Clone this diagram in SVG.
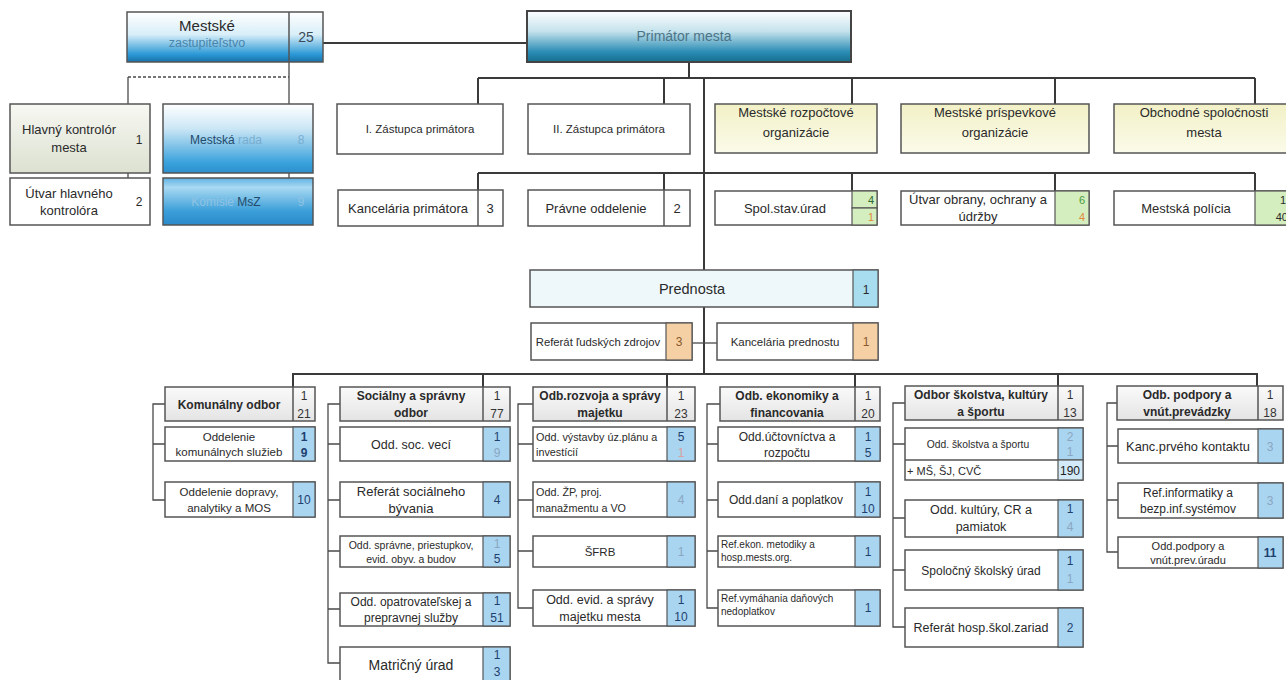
<svg xmlns="http://www.w3.org/2000/svg" width="1286" height="680" viewBox="0 0 1286 680">
<defs>
<linearGradient id="gZast" x1="0" y1="0" x2="0" y2="1"><stop offset="0" stop-color="#ffffff"/><stop offset="0.45" stop-color="#d8eef8"/><stop offset="0.85" stop-color="#2a98d6"/><stop offset="1" stop-color="#1a6fa8"/></linearGradient>
<linearGradient id="gPrim" x1="0" y1="0" x2="0" y2="1"><stop offset="0" stop-color="#ffffff"/><stop offset="0.4" stop-color="#c4e2ec"/><stop offset="0.8" stop-color="#2b8db5"/><stop offset="1" stop-color="#156e8e"/></linearGradient>
<linearGradient id="gRada" x1="0" y1="0" x2="0" y2="1"><stop offset="0" stop-color="#ffffff"/><stop offset="0.35" stop-color="#cde7f6"/><stop offset="0.85" stop-color="#3aa2dc"/><stop offset="1" stop-color="#2b8fcc"/></linearGradient>
<linearGradient id="gKom" x1="0" y1="0" x2="0" y2="1"><stop offset="0" stop-color="#5fb2e2"/><stop offset="0.2" stop-color="#a9d9f2"/><stop offset="0.7" stop-color="#3b9fd9"/><stop offset="1" stop-color="#2b8acb"/></linearGradient>
<linearGradient id="gYel" x1="0" y1="0" x2="0" y2="1"><stop offset="0" stop-color="#f2f0c6"/><stop offset="1" stop-color="#fbfbea"/></linearGradient>
<linearGradient id="gKontr" x1="0" y1="0" x2="0" y2="1"><stop offset="0" stop-color="#f7f8f3"/><stop offset="1" stop-color="#dce1d0"/></linearGradient>
<linearGradient id="gHead" x1="0" y1="0" x2="0" y2="1"><stop offset="0" stop-color="#fafafa"/><stop offset="1" stop-color="#e4e4e4"/></linearGradient>
</defs>
<style>
text{font-family:"Liberation Sans",Arial,sans-serif;fill:#2a2a2a;}
.b{fill:#fff;stroke:#555;stroke-width:1.5;}
.h{fill:url(#gHead);stroke:#555;stroke-width:1.5;}
.y{fill:url(#gYel);stroke:#555;stroke-width:1.5;}
.d{stroke:#555;stroke-width:1.5;fill:none;}
.nb{fill:#a9d5f0;stroke:#555;stroke-width:1.2;}
.nl{fill:#d3eaf8;stroke:#555;stroke-width:1.2;}
.ng{fill:#d4eebf;stroke:#555;stroke-width:1.2;}
.no{fill:#f5d0a5;stroke:#555;stroke-width:1.2;}
.c{text-anchor:middle;}
.l{text-anchor:start;}
.e{text-anchor:end;}
.hd{font-size:12px;font-weight:bold;text-anchor:middle;}
.num{font-size:12px;text-anchor:middle;fill:#1f3f6f;}
.hn{font-size:12px;text-anchor:middle;fill:#333;}
.fd{fill:#8aa6c2;}
.or{fill:#e08a3a;}
.gr{fill:#4a9a3a;}
.cn{stroke:#3a3a3a;stroke-width:2;fill:none;}
.cs{stroke:#4a4a4a;stroke-width:1.3;fill:none;}
</style>

<g id="connectors">
<line class="cn" x1="323" y1="43" x2="527" y2="43"/>
<line class="cs" x1="289" y1="62" x2="289" y2="225"/>
<line class="cs" x1="128" y1="77" x2="289" y2="77" stroke-dasharray="3,2"/>
<line class="cs" x1="128" y1="77" x2="128" y2="225"/>
<line class="cn" x1="689" y1="62" x2="689" y2="78"/>
<line class="cn" x1="478" y1="78" x2="1255" y2="78"/>
<line class="cn" x1="478" y1="78" x2="478" y2="104"/>
<line class="cn" x1="664" y1="78" x2="664" y2="104"/>
<line class="cn" x1="852" y1="78" x2="852" y2="104"/>
<line class="cn" x1="1055" y1="78" x2="1055" y2="104"/>
<line class="cn" x1="1255" y1="78" x2="1255" y2="104"/>
<line class="cn" x1="478" y1="173" x2="1255" y2="173"/>
<line class="cn" x1="478" y1="173" x2="478" y2="190"/>
<line class="cn" x1="664" y1="173" x2="664" y2="190"/>
<line class="cn" x1="852" y1="173" x2="852" y2="191"/>
<line class="cn" x1="1055" y1="173" x2="1055" y2="191"/>
<line class="cn" x1="1255" y1="173" x2="1255" y2="191"/>
<line class="cn" x1="704" y1="78" x2="704" y2="270"/>
<line class="cn" x1="704" y1="307" x2="704" y2="374"/>
<line class="cs" x1="692" y1="343" x2="717" y2="343"/>
<line class="cn" x1="292" y1="374" x2="1258" y2="374"/>
<line class="cn" x1="293" y1="374" x2="293" y2="387"/>
<line class="cn" x1="483" y1="374" x2="483" y2="387"/>
<line class="cn" x1="667" y1="374" x2="667" y2="387"/>
<line class="cn" x1="855" y1="374" x2="855" y2="387"/>
<line class="cn" x1="1058" y1="374" x2="1058" y2="386"/>
<line class="cn" x1="1257" y1="374" x2="1257" y2="386"/>
<path class="cs" d="M165 404H153V500H165M153 444H165"/>
<path class="cs" d="M340 404H328V663H340M328 444H340M328 500H340M328 551H340M328 609H340"/>
<path class="cs" d="M533 404H518V608H533M518 444H533M518 500H533M518 551H533"/>
<path class="cs" d="M720 404H707V608H718M707 444H718M707 500H718M707 551H718"/>
<path class="cs" d="M905 403H893V627H905M893 444H905M893 518H905M893 570H905"/>
<path class="cs" d="M1117 403H1107V552H1118M1107 446H1118M1107 500H1118"/>
</g>

<g id="n-zastupitelstvo">
<rect x="127" y="12" width="196" height="50" fill="url(#gZast)" stroke="#555" stroke-width="1.5"/>
<line class="d" x1="289" y1="12" x2="289" y2="62"/>
<text class="c" x="207" y="31" font-size="15">Mestské</text>
<text class="c" x="207" y="47" font-size="12.5" style="fill:#4a85ab">zastupiteľstvo</text>
<text class="c" x="306" y="42" font-size="14" style="fill:#3a4a5a">25</text>
</g>
<g id="n-primator">
<rect x="527" y="11" width="324" height="51" fill="url(#gPrim)" stroke="#444" stroke-width="2"/>
<text class="c" x="684" y="41" font-size="14" style="fill:#4d7486">Primátor mesta</text>
</g>
<g id="n-kontrolor">
<rect x="10" y="104" width="140" height="69" fill="url(#gKontr)" stroke="#555" stroke-width="1.5"/>
<text class="c" x="69" y="134" font-size="13">Hlavný kontrolór</text>
<text class="c" x="69" y="152" font-size="13">mesta</text>
<text class="c" x="139" y="144" font-size="12">1</text>
</g>
<g id="n-utvar-kontrolora">
<rect class="b" x="10" y="178" width="140" height="47"/>
<text class="c" x="69" y="198" font-size="13">Útvar hlavného</text>
<text class="c" x="69" y="215" font-size="13">kontrolóra</text>
<text class="c" x="139" y="206" font-size="12">2</text>
</g>
<g id="n-rada">
<rect x="163" y="104" width="150" height="69" fill="url(#gRada)" stroke="#555" stroke-width="1.5"/>
<text class="c" x="226" y="144" font-size="12" style="fill:#234a6a">Mestská <tspan style="fill:#7aaed0">rada</tspan></text>
<text class="c" x="301" y="144" font-size="12" style="fill:#7aaed0">8</text>
</g>
<g id="n-komisie">
<rect x="163" y="178" width="150" height="47" fill="url(#gKom)" stroke="#555" stroke-width="1.5"/>
<text class="c" x="226" y="206" font-size="12" style="fill:#234a6a"><tspan style="fill:#8fc3e4">Komisie</tspan> MsZ</text>
<text class="c" x="301" y="206" font-size="12" style="fill:#8fc3e4">9</text>
</g>

<g id="n-zastupca1">
<rect class="b" x="337" y="104" width="166" height="50"/>
<text class="c" x="420" y="133" font-size="11.5">I. Zástupca primátora</text>
</g>
<g id="n-zastupca2">
<rect class="b" x="528" y="104" width="162" height="50"/>
<text class="c" x="609" y="133" font-size="11.5">II. Zástupca primátora</text>
</g>
<g id="n-rozpoctove">
<rect class="y" x="715" y="104" width="162" height="49"/>
<text class="c" x="796" y="117" font-size="13">Mestské rozpočtové</text>
<text class="c" x="796" y="137" font-size="13">organizácie</text>
</g>
<g id="n-prispevkove">
<rect class="y" x="901" y="104" width="188" height="49"/>
<text class="c" x="995" y="117" font-size="13">Mestské príspevkové</text>
<text class="c" x="995" y="137" font-size="13">organizácie</text>
</g>
<g id="n-obchodne">
<rect class="y" x="1114" y="104" width="180" height="49"/>
<text class="c" x="1204" y="117" font-size="13">Obchodné spoločnosti</text>
<text class="c" x="1204" y="137" font-size="13">mesta</text>
</g>

<g id="n-kancelaria-primatora">
<rect class="b" x="338" y="190" width="165" height="36"/>
<line class="d" x1="478" y1="190" x2="478" y2="226"/>
<text class="c" x="408" y="213" font-size="13">Kancelária primátora</text>
<text class="c" x="490" y="213" font-size="13">3</text>
</g>
<g id="n-pravne">
<rect class="b" x="528" y="190" width="162" height="36"/>
<line class="d" x1="664" y1="190" x2="664" y2="226"/>
<text class="c" x="596" y="213" font-size="13">Právne oddelenie</text>
<text class="c" x="677" y="213" font-size="13">2</text>
</g>
<g id="n-spolstav">
<rect class="b" x="715" y="191" width="162" height="34"/>
<rect class="ng" x="852" y="191" width="25" height="17"/>
<rect class="ng" x="852" y="208" width="25" height="17"/>
<text class="c" x="785" y="213" font-size="13">Spol.stav.úrad</text>
<text class="e" x="874" y="204" font-size="11" style="fill:#2f6a2f">4</text>
<text class="e or" x="874" y="221" font-size="11">1</text>
</g>
<g id="n-utvar-obrany">
<rect class="b" x="901" y="191" width="188" height="34"/>
<rect class="ng" x="1055" y="191" width="34" height="34"/>
<text class="c" x="978" y="204" font-size="13">Útvar obrany, ochrany a</text>
<text class="c" x="978" y="221" font-size="13">údržby</text>
<text class="e gr" x="1085" y="204" font-size="11">6</text>
<text class="e or" x="1085" y="221" font-size="11">4</text>
</g>
<g id="n-policia">
<rect class="b" x="1114" y="191" width="180" height="34"/>
<rect class="ng" x="1255" y="191" width="39" height="34"/>
<text class="c" x="1186" y="213" font-size="13">Mestská polícia</text>
<text class="e" x="1286" y="204" font-size="11">1</text>
<text class="e" x="1288" y="221" font-size="11">40</text>
</g>

<g id="n-prednosta">
<rect x="530" y="270" width="348" height="37" fill="#eef8fa" stroke="#555" stroke-width="1.5"/>
<rect x="853" y="270" width="25" height="37" fill="#a8dcef" stroke="#555" stroke-width="1.2"/>
<text class="c" x="692" y="294" font-size="14.5">Prednosta</text>
<text class="c" x="866" y="294" font-size="12">1</text>
</g>
<g id="n-ref-ludskych">
<rect class="b" x="531" y="323" width="161" height="37"/>
<rect class="no" x="666" y="323" width="26" height="37"/>
<text class="c" x="598" y="346" font-size="11.3">Referát ľudských zdrojov</text>
<text class="c" x="679" y="346" font-size="12" style="fill:#8a5a2a">3</text>
</g>
<g id="n-kanc-prednostu">
<rect class="b" x="717" y="323" width="161" height="37"/>
<rect class="no" x="853" y="323" width="25" height="37"/>
<text class="c" x="785" y="346" font-size="11.5">Kancelária prednostu</text>
<text class="c" x="866" y="346" font-size="12" style="fill:#8a5a2a">1</text>
</g>

<g id="n-komunalny">
<rect class="h" x="165" y="387" width="150" height="34"/>
<line class="d" x1="293" y1="387" x2="293" y2="421"/>
<text class="hd" x="229" y="409">Komunálny odbor</text>
<text class="hn" x="304" y="400">1</text>
<text class="hn" x="304" y="418">21</text>
</g>
<g id="n-kom-sluzby">
<rect class="b" x="165" y="427" width="150" height="34"/>
<rect class="nb" x="293" y="427" width="22" height="34"/>
<text class="c" x="229" y="441" font-size="11.5">Oddelenie</text>
<text class="c" x="229" y="456" font-size="11.5">komunálnych služieb</text>
<text class="num" x="304" y="441" font-weight="bold">1</text>
<text class="num" x="304" y="457" font-weight="bold">9</text>
</g>
<g id="n-kom-dopravy">
<rect class="b" x="165" y="482" width="150" height="35"/>
<rect class="nb" x="293" y="482" width="22" height="35"/>
<text class="c" x="229" y="496" font-size="11.5">Oddelenie dopravy,</text>
<text class="c" x="229" y="512" font-size="11.5">analytiky a MOS</text>
<text class="num" x="304" y="504">10</text>
</g>

<g id="n-socialny">
<rect class="h" x="340" y="387" width="170" height="34"/>
<line class="d" x1="483" y1="387" x2="483" y2="421"/>
<text class="hd" x="411" y="400">Sociálny a správny</text>
<text class="hd" x="411" y="417">odbor</text>
<text class="hn" x="497" y="400">1</text>
<text class="hn" x="497" y="418">77</text>
</g>
<g id="n-soc-veci">
<rect class="b" x="340" y="427" width="170" height="34"/>
<rect class="nb" x="483" y="427" width="27" height="34"/>
<text class="c" x="411" y="449" font-size="12.5">Odd. soc. vecí</text>
<text class="num" x="497" y="441">1</text>
<text class="num fd" x="497" y="457">9</text>
</g>
<g id="n-soc-byvania">
<rect class="b" x="340" y="482" width="170" height="35"/>
<rect class="nb" x="483" y="482" width="27" height="35"/>
<text class="c" x="411" y="496" font-size="13">Referát sociálneho</text>
<text class="c" x="411" y="513" font-size="13">bývania</text>
<text class="num" x="497" y="504">4</text>
</g>
<g id="n-soc-spravne">
<rect class="b" x="340" y="536" width="170" height="31"/>
<rect class="nb" x="483" y="536" width="27" height="31"/>
<text class="c" x="411" y="549" font-size="10.5">Odd. správne, priestupkov,</text>
<text class="c" x="411" y="563" font-size="10.5">evid. obyv. a budov</text>
<text class="num fd" x="497" y="548">1</text>
<text class="num" x="497" y="563">5</text>
</g>
<g id="n-soc-opatrovatelskej">
<rect class="b" x="340" y="593" width="170" height="33"/>
<rect class="nb" x="483" y="593" width="27" height="33"/>
<text class="c" x="411" y="606" font-size="12">Odd. opatrovateľskej a</text>
<text class="c" x="411" y="622" font-size="12">prepravnej služby</text>
<text class="num" x="497" y="605">1</text>
<text class="num" x="497" y="622">51</text>
</g>
<g id="n-soc-matricny">
<rect class="b" x="340" y="647" width="170" height="36"/>
<rect class="nb" x="483" y="647" width="27" height="36"/>
<text class="c" x="411" y="670" font-size="14">Matričný úrad</text>
<text class="num" x="497" y="659">1</text>
<text class="num" x="497" y="676">3</text>
</g>

<g id="n-rozvoj">
<rect class="h" x="533" y="387" width="162" height="34"/>
<line class="d" x1="667" y1="387" x2="667" y2="421"/>
<text class="hd" x="600" y="400">Odb.rozvoja a správy</text>
<text class="hd" x="600" y="417">majetku</text>
<text class="hn" x="681" y="400">1</text>
<text class="hn" x="681" y="418">23</text>
</g>
<g id="n-roz-vystavby">
<rect class="b" x="533" y="427" width="162" height="34"/>
<rect class="nb" x="667" y="427" width="28" height="34"/>
<text class="l" x="536" y="441" font-size="10.8">Odd. výstavby úz.plánu a</text>
<text class="l" x="536" y="456" font-size="10.8">investícií</text>
<text class="num" x="681" y="441">5</text>
<text class="num" x="681" y="457" style="fill:#d9a0a0">1</text>
</g>
<g id="n-roz-zp">
<rect class="b" x="533" y="482" width="162" height="35"/>
<rect class="nb" x="667" y="482" width="28" height="35"/>
<text class="l" x="536" y="496" font-size="10.8">Odd. ŽP, proj.</text>
<text class="l" x="536" y="512" font-size="10.8">manažmentu a VO</text>
<text class="num fd" x="681" y="504">4</text>
</g>
<g id="n-roz-sfrb">
<rect class="b" x="533" y="536" width="162" height="31"/>
<rect class="nb" x="667" y="536" width="28" height="31"/>
<text class="c" x="600" y="556" font-size="11.5">ŠFRB</text>
<text class="num fd" x="681" y="556">1</text>
</g>
<g id="n-roz-evid">
<rect class="b" x="533" y="590" width="162" height="36"/>
<rect class="nb" x="667" y="590" width="28" height="36"/>
<text class="c" x="600" y="604" font-size="12.5">Odd. evid. a správy</text>
<text class="c" x="600" y="621" font-size="12.5">majetku mesta</text>
<text class="num" x="681" y="604">1</text>
<text class="num" x="681" y="621">10</text>
</g>

<g id="n-ekonomika">
<rect class="h" x="720" y="387" width="160" height="34"/>
<line class="d" x1="855" y1="387" x2="855" y2="421"/>
<text class="hd" x="787" y="400">Odb. ekonomiky a</text>
<text class="hd" x="787" y="417">financovania</text>
<text class="hn" x="868" y="400">1</text>
<text class="hn" x="868" y="418">20</text>
</g>
<g id="n-eko-uctovnictva">
<rect class="b" x="718" y="427" width="162" height="34"/>
<rect class="nb" x="855" y="427" width="25" height="34"/>
<text class="c" x="787" y="441" font-size="12">Odd.účtovníctva a</text>
<text class="c" x="787" y="457" font-size="12">rozpočtu</text>
<text class="num" x="868" y="441">1</text>
<text class="num" x="868" y="457">5</text>
</g>
<g id="n-eko-dani">
<rect class="b" x="718" y="482" width="162" height="35"/>
<rect class="nb" x="855" y="482" width="25" height="35"/>
<text class="c" x="786" y="504" font-size="12">Odd.daní a poplatkov</text>
<text class="num" x="868" y="496">1</text>
<text class="num" x="868" y="513">10</text>
</g>
<g id="n-eko-metodiky">
<rect class="b" x="718" y="536" width="162" height="31"/>
<rect class="nb" x="855" y="536" width="25" height="31"/>
<text class="l" x="721" y="548" font-size="10">Ref.ekon. metodiky a</text>
<text class="l" x="721" y="561" font-size="10">hosp.mests.org.</text>
<text class="num" x="868" y="556">1</text>
</g>
<g id="n-eko-vymahania">
<rect class="b" x="718" y="590" width="162" height="36"/>
<rect class="nb" x="855" y="590" width="25" height="36"/>
<text class="l" x="721" y="602" font-size="10">Ref.vymáhania daňových</text>
<text class="l" x="721" y="615" font-size="10">nedoplatkov</text>
<text class="num" x="868" y="612">1</text>
</g>

<g id="n-skolstvo">
<rect class="h" x="905" y="386" width="178" height="34"/>
<line class="d" x1="1058" y1="386" x2="1058" y2="420"/>
<text class="hd" x="981" y="399">Odbor školstva, kultúry</text>
<text class="hd" x="981" y="416">a športu</text>
<text class="hn" x="1070" y="399">1</text>
<text class="hn" x="1070" y="417">13</text>
</g>
<g id="n-sko-skolstva">
<rect class="b" x="905" y="428" width="178" height="52"/>
<rect class="nb" x="1058" y="428" width="25" height="32"/>
<rect class="nl" x="1058" y="460" width="25" height="20"/>
<line class="d" x1="905" y1="460" x2="1058" y2="460"/>
<text class="c" x="978" y="448" font-size="10.3">Odd. školstva a športu</text>
<text class="l" x="907" y="475" font-size="11">+ MŠ, ŠJ, CVČ</text>
<text class="num fd" x="1070" y="441">2</text>
<text class="num fd" x="1070" y="456">1</text>
<text class="num" x="1070" y="475" style="fill:#222">190</text>
</g>
<g id="n-sko-kultury">
<rect class="b" x="905" y="500" width="178" height="37"/>
<rect class="nb" x="1058" y="500" width="25" height="37"/>
<text class="c" x="981" y="514" font-size="12.5">Odd. kultúry, CR a</text>
<text class="c" x="981" y="531" font-size="12.5">pamiatok</text>
<text class="num" x="1070" y="513">1</text>
<text class="num fd" x="1070" y="531">4</text>
</g>
<g id="n-sko-urad">
<rect class="b" x="905" y="550" width="178" height="40"/>
<rect class="nb" x="1058" y="550" width="25" height="40"/>
<text class="c" x="981" y="575" font-size="12">Spoločný školský úrad</text>
<text class="num" x="1070" y="565">1</text>
<text class="num fd" x="1070" y="583">1</text>
</g>
<g id="n-sko-hosp">
<rect class="b" x="905" y="608" width="178" height="39"/>
<rect class="nb" x="1058" y="608" width="25" height="39"/>
<text class="c" x="981" y="632" font-size="12.5">Referát hosp.škol.zariad</text>
<text class="num" x="1070" y="632">2</text>
</g>

<g id="n-podpora">
<rect class="h" x="1117" y="386" width="166" height="34"/>
<line class="d" x1="1258" y1="386" x2="1258" y2="420"/>
<text class="hd" x="1187" y="399">Odb. podpory a</text>
<text class="hd" x="1187" y="416">vnút.prevádzky</text>
<text class="hn" x="1270" y="399">1</text>
<text class="hn" x="1270" y="417">18</text>
</g>
<g id="n-pod-kontaktu">
<rect class="b" x="1118" y="429" width="165" height="34"/>
<rect class="nb" x="1258" y="429" width="25" height="34"/>
<text class="c" x="1188" y="451" font-size="12.8">Kanc.prvého kontaktu</text>
<text class="num fd" x="1270" y="451">3</text>
</g>
<g id="n-pod-informatiky">
<rect class="b" x="1118" y="483" width="165" height="35"/>
<rect class="nb" x="1258" y="483" width="25" height="35"/>
<text class="c" x="1188" y="497" font-size="12">Ref.informatiky a</text>
<text class="c" x="1188" y="513" font-size="12">bezp.inf.systémov</text>
<text class="num fd" x="1270" y="505">3</text>
</g>
<g id="n-pod-uradu">
<rect class="b" x="1118" y="537" width="165" height="31"/>
<rect class="nb" x="1258" y="537" width="25" height="31"/>
<text class="c" x="1188" y="550" font-size="11">Odd.podpory a</text>
<text class="c" x="1188" y="564" font-size="11">vnút.prev.úradu</text>
<text class="num" x="1270" y="557" font-weight="bold">11</text>
</g>
</svg>
